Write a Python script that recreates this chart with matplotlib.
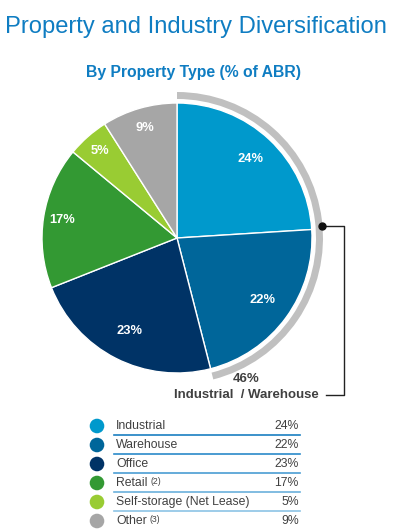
import matplotlib
matplotlib.use("Agg")
import matplotlib.pyplot as plt
from matplotlib.patches import Wedge, Circle
import numpy as np

plt.rcParams['font.family'] = ['Liberation Sans', 'DejaVu Sans']

categories = ["Industrial", "Warehouse", "Office", "Retail", "Self-storage (Net Lease)", "Other"]
values = [24, 22, 23, 17, 5, 9]
superscripts = ["", "", "", "(2)", "", "(3)"]
colors = ["#0099CC", "#00669A", "#003366", "#339933", "#99CC33", "#A6A6A6"]
group_label = "Industrial  / Warehouse"
group_value = 46

W, H = 394, 531
fig = plt.figure(figsize=(W / 100, H / 100), dpi=100)
ax = fig.add_axes([0, 0, 1, 1])

def Y(y):
    return H - y

title_color = "#0F7DC2"
text_color = "#404040"

fig.text(5 / W, 1 - 27 / H, "Property and Industry Diversification", fontsize=17.1,
         color=title_color, ha='left', va='center')
fig.text(193 / W, 1 - 72 / H, "By Property Type (% of ABR)", fontsize=11.3,
         color=title_color, ha='center', va='center', fontweight='bold')

cx, cy, r = 177, Y(238), 135
wedges, texts, autotexts = ax.pie(values, colors=colors, startangle=90, counterclock=False,
                                  center=(cx, cy), radius=r, frame=True,
                                  autopct=lambda p: f"{p:.0f}%", pctdistance=0.8,
                                  wedgeprops=dict(edgecolor='white', linewidth=1.0),
                                  textprops=dict(color='white', fontweight='bold', fontsize=9.3))
# per-wedge label distance (layout only)
label_dist = [0.80, 0.78, 0.77, 0.86, 0.86, 0.85]
for w, at, d in zip(wedges, autotexts, label_dist):
    ang = np.deg2rad((w.theta1 + w.theta2) / 2)
    at.set_position((cx + d * r * np.cos(ang), cy + d * r * np.sin(ang)))

ax.set_xlim(0, W)
ax.set_ylim(0, H)
ax.set_aspect('equal')
ax.axis('off')

# ring over Industrial + Warehouse
frac = (values[0] + values[1]) / sum(values)
ring = Wedge((cx, cy), 146, 90 - 360 * frac, 90, width=7, facecolor="#C0C0C0", edgecolor='none')
ax.add_patch(ring)

# connector
ax.plot([322, 344, 344, 326], [Y(226), Y(226), Y(395), Y(395)], color="#222222", lw=1.0)
ax.plot([322], [Y(226)], 'o', color="#111111", ms=5)
ax.text(246, Y(379), f"{group_value}%", ha='center', va='center', fontsize=9.5,
        fontweight='bold', color=text_color)
ax.text(246, Y(395), group_label, ha='center', va='center', fontsize=9.5,
        fontweight='bold', color=text_color)

# legend table
line_colors = ["#1A7FC1", "#2A8ACA", "#4A9DD3", "#6BB0DC", "#8CC3E5"]
for i, (cat, val, sup, col) in enumerate(zip(categories, values, superscripts, colors)):
    yy = 426 + 19 * i
    ax.add_patch(Circle((97, Y(yy)), 7.3, facecolor=col, edgecolor='none'))
    t = ax.text(116, Y(yy), cat, ha='left', va='center', fontsize=8.8, color=text_color)
    if sup:
        ax.annotate(sup, xy=(1, 1), xycoords=t, xytext=(2, 0), textcoords='offset points',
                    ha='left', va='top', fontsize=6.2, color=text_color)
    ax.text(299, Y(yy), f"{val}%", ha='right', va='center', fontsize=8.8, color=text_color)
    if i < len(categories) - 1:
        ax.plot([114, 300], [Y(yy + 8.5), Y(yy + 8.5)], color=line_colors[i], lw=1.2)

fig.savefig("out.png", dpi=100)
